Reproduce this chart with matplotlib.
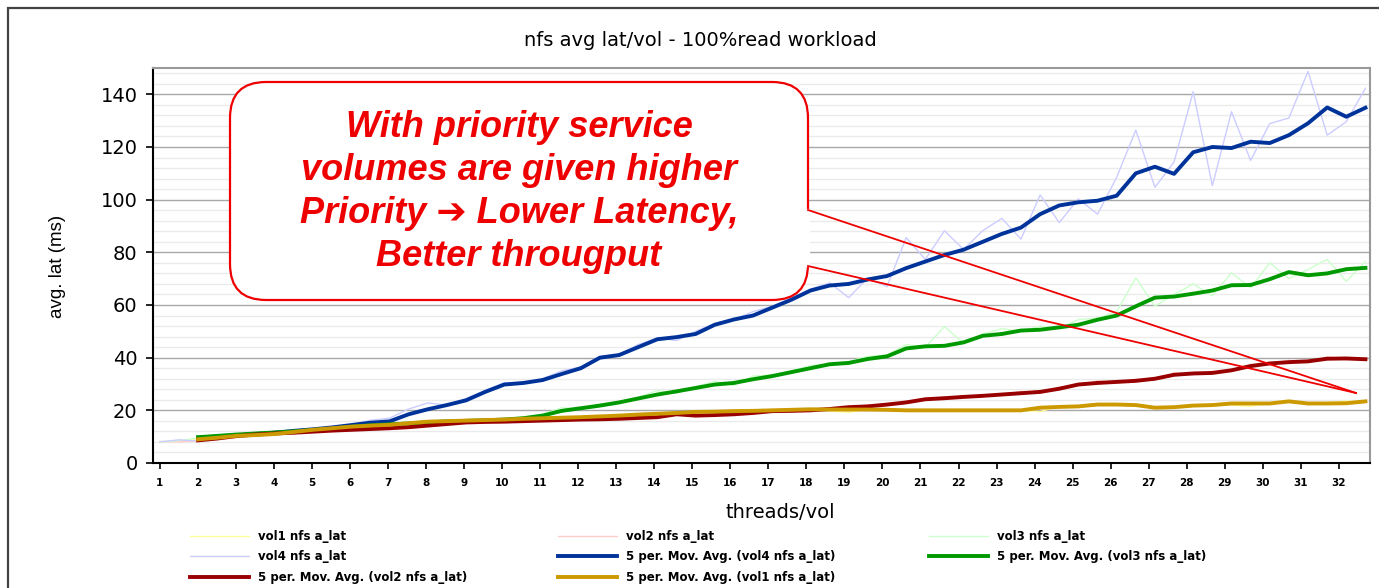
import numpy as np
import matplotlib
matplotlib.use("Agg")
import matplotlib.pyplot as plt
from matplotlib.patches import FancyBboxPatch, Rectangle
from matplotlib.lines import Line2D
from matplotlib.ticker import MultipleLocator

nan = float("nan")

# ---------------- data ----------------
threads = np.round(np.linspace(1, 32.7, 64), 3)      # sample positions (threads/vol)
tick_labels = [str(i) for i in range(1, 33)]

vol1_raw = [8.0, 8.6, 8.8, 9.8, 10.2, 10.8, 11.2, 12.0, 12.8, 13.4, 13.6, 14.4, 14.6, 15.4, 15.6, 16.0,
            16.2, 16.5, 16.4, 17.0, 17.0, 17.4, 17.6, 17.8, 18.2, 18.5, 18.9, 19.3, 19.2, 19.6, 20.0, 19.8,
            20.3, 20.4, 20.6, 19.8, 19.2, 20.5, 20.3, 20.0, 20.2, 19.8, 20.2, 20.0, 19.9, 20.1, 19.5, 21.6,
            21.8, 22.5, 22.6, 21.9, 20.8, 21.5, 22.2, 21.8, 22.0, 21.5, 22.9, 23.8, 22.4, 23.0, 23.5, 23.2]
vol2_raw = [8.2, 8.0, 8.5, 9.8, 10.0, 11.0, 11.0, 11.8, 11.7, 12.5, 12.4, 13.2, 13.0, 14.0, 14.0, 15.2,
            15.0, 16.0, 15.5, 16.2, 15.8, 16.8, 16.2, 17.0, 16.5, 17.6, 17.0, 19.0, 17.6, 18.6, 18.2, 19.5,
            19.4, 20.2, 19.8, 21.0, 21.0, 22.0, 21.8, 23.6, 24.0, 25.2, 24.8, 26.0, 25.6, 27.2, 26.5, 28.8,
            29.5, 31.2, 30.4, 31.8, 31.6, 34.2, 33.6, 34.8, 35.0, 37.5, 37.4, 39.0, 38.2, 40.3, 39.2, 39.8]
vol3_raw = [8.0, 8.5, 9.5, 10.5, 10.8, 11.3, 11.5, 12.2, 12.7, 13.2, 14.0, 14.5, 14.5, 15.3, 15.5, 16.0,
            16.0, 16.5, 16.8, 17.5, 18.5, 21.0, 20.5, 22.5, 23.0, 25.0, 27.5, 26.5, 29.0, 31.0, 29.5, 33.0,
            33.5, 35.0, 37.0, 37.5, 38.5, 40.5, 41.0, 45.0, 44.0, 51.8, 45.5, 49.0, 51.0, 50.0, 52.0, 51.0,
            54.5, 55.0, 57.5, 70.3, 59.5, 64.0, 68.0, 63.5, 72.2, 66.5, 76.0, 70.0, 73.5, 77.3, 69.0, 76.5]
vol4_raw = [8.0, 8.8, 8.3, 10.0, 10.6, 10.8, 11.5, 12.0, 12.8, 13.8, 14.6, 16.2, 17.0, 20.5, 22.8, 22.0,
            24.5, 27.5, 30.5, 30.0, 32.0, 35.0, 36.5, 40.5, 41.0, 45.0, 47.5, 46.5, 50.0, 53.0, 54.5, 57.5,
            59.5, 62.5, 66.0, 68.4, 62.8, 70.3, 67.0, 85.6, 77.3, 88.2, 81.1, 88.2, 92.9, 85.0, 101.8, 91.3,
            100.3, 94.5, 108.5, 126.4, 104.7, 114.3, 141.0, 105.3, 133.4, 114.9, 128.9, 131.0, 148.7, 124.5, 129.6, 142.3]

ma_vol4 = [nan, nan, 9.6, 10.0, 10.5, 11.0, 11.5, 12.2, 12.8, 13.5, 14.4, 15.3, 15.8, 18.5, 20.4, 22.0,
           23.8, 27.0, 29.8, 30.4, 31.5, 33.8, 36.0, 40.0, 41.0, 44.0, 47.0, 47.8, 49.0, 52.5, 54.5, 56.0,
           59.0, 62.0, 65.5, 67.4, 68.0, 69.7, 71.0, 74.0, 76.5, 79.0, 81.0, 84.0, 87.0, 89.4, 94.5, 97.8,
           99.0, 99.6, 101.5, 110.0, 112.5, 109.8, 118.0, 120.0, 119.6, 122.0, 121.5, 124.5, 129.0, 135.0, 131.5, 134.9]
ma_vol3 = [nan, nan, 9.8, 10.3, 10.8, 11.2, 11.6, 12.0, 12.5, 13.0, 13.8, 14.3, 14.7, 15.0, 15.4, 15.8,
           16.0, 16.2, 16.5, 17.0, 18.0, 19.8, 20.8, 21.8, 23.0, 24.5, 26.0, 27.2, 28.5, 29.8, 30.4, 31.8,
           33.0, 34.5, 36.0, 37.5, 38.0, 39.5, 40.5, 43.5, 44.3, 44.5, 45.8, 48.3, 49.0, 50.3, 50.6, 51.5,
           52.5, 54.4, 56.0, 59.5, 62.8, 63.2, 64.3, 65.5, 67.5, 67.6, 69.8, 72.5, 71.3, 72.0, 73.6, 74.1]
ma_vol2 = [nan, nan, 8.6, 9.3, 10.2, 10.8, 11.2, 11.5, 11.9, 12.3, 12.6, 12.9, 13.2, 13.6, 14.2, 14.8,
           15.4, 15.6, 15.7, 15.9, 16.1, 16.3, 16.5, 16.6, 16.8, 17.1, 17.4, 18.5, 18.0, 18.2, 18.5, 19.0,
           19.7, 19.8, 20.0, 20.5, 21.2, 21.5, 22.2, 23.0, 24.2, 24.6, 25.1, 25.5, 26.0, 26.5, 27.0, 28.2,
           29.8, 30.4, 30.8, 31.2, 32.0, 33.5, 34.0, 34.2, 35.2, 36.8, 37.8, 38.3, 38.6, 39.6, 39.7, 39.4]
ma_vol1 = [nan, nan, 9.0, 9.6, 10.3, 10.6, 11.0, 11.8, 12.6, 13.2, 13.8, 14.2, 14.5, 15.1, 15.7, 15.9,
           16.1, 16.3, 16.5, 16.8, 17.0, 17.2, 17.4, 17.7, 18.0, 18.4, 18.7, 19.0, 19.4, 19.5, 19.7, 19.8,
           20.0, 20.2, 20.4, 20.3, 20.3, 20.3, 20.2, 20.0, 20.0, 20.0, 20.0, 20.0, 20.0, 20.0, 21.0, 21.3,
           21.5, 22.2, 22.2, 22.0, 21.0, 21.2, 21.8, 22.0, 22.6, 22.6, 22.6, 23.4, 22.6, 22.6, 22.7, 23.4]

# ---------------- figure ----------------
W, H = 1379, 588
fig = plt.figure(figsize=(W / 100, H / 100), dpi=100)
fig.patch.set_facecolor("white")

# outer chart-area frame (continues past right/bottom edge)
fig.add_artist(Rectangle((8 / W, -0.2), 1.5, 1.2 - 8 / H, transform=fig.transFigure,
                         fill=False, edgecolor="#444444", lw=1.6, zorder=0.5))

ax = fig.add_axes([153 / W, 125 / H, 1217 / W, 395 / H])
ax.set_facecolor("white")

l_v1, = ax.plot(threads, vol1_raw, color="#ffff99", lw=1.0, label="vol1 nfs a_lat")
l_v2, = ax.plot(threads, vol2_raw, color="#ffcccc", lw=1.0, label="vol2 nfs a_lat")
l_v3, = ax.plot(threads, vol3_raw, color="#ccffcc", lw=1.0, label="vol3 nfs a_lat")
l_v4, = ax.plot(threads, vol4_raw, color="#ccccff", lw=1.0, label="vol4 nfs a_lat")
m_v4, = ax.plot(threads, ma_vol4, color="#003399", lw=2.8, label="5 per. Mov. Avg. (vol4 nfs a_lat)")
m_v3, = ax.plot(threads, ma_vol3, color="#009900", lw=2.8, label="5 per. Mov. Avg. (vol3 nfs a_lat)")
m_v2, = ax.plot(threads, ma_vol2, color="#990000", lw=2.8, label="5 per. Mov. Avg. (vol2 nfs a_lat)")
m_v1, = ax.plot(threads, ma_vol1, color="#cc9900", lw=2.8, label="5 per. Mov. Avg. (vol1 nfs a_lat)")

ax.set_xlim(0.82, 32.82)
ax.set_ylim(0, 150)
ax.set_xticks(range(1, 33))
ax.set_xticklabels(tick_labels, fontsize=7.5, fontweight="bold", family="DejaVu Sans")
ax.set_yticks(range(0, 141, 20))
ax.set_yticklabels([str(v) for v in range(0, 141, 20)], fontsize=14, family="DejaVu Sans")
ax.yaxis.set_minor_locator(MultipleLocator(4))
ax.tick_params(axis="y", which="major", direction="out", length=5, width=1.2, pad=6)
ax.tick_params(axis="y", which="minor", length=0)
ax.tick_params(axis="x", direction="out", length=4, width=1.2, pad=7)
ax.grid(which="major", axis="y", color="#a8a8a8", lw=1.0)
ax.grid(which="minor", axis="y", color="#ebebeb", lw=1.0)
ax.set_axisbelow(True)
for s in ("left", "bottom"):
    ax.spines[s].set_color("black")
    ax.spines[s].set_linewidth(1.5)
for s in ("top", "right"):
    ax.spines[s].set_color("#999999")
    ax.spines[s].set_linewidth(1.5)

fig.text(58 / W, 1 - 266 / H, "avg. lat (ms)", fontsize=13.5, family="Liberation Sans",
         rotation=90, ha="center", va="center")
fig.text(780 / W, 1 - 513 / H, "threads/vol", fontsize=14, family="DejaVu Sans",
         ha="center", va="center")
fig.text(700 / W, 1 - 40 / H, "nfs avg lat/vol - 100%read workload", fontsize=14,
         family="DejaVu Sans", ha="center", va="center")

# ---------------- legend (three columns) ----------------
cols = [([l_v1, l_v4, m_v2], 190), ([l_v2, m_v4, m_v1], 558), ([l_v3, m_v3], 929)]
for handles, xpx in cols:
    fig.legend(handles=handles, labels=[h.get_label() for h in handles],
               loc="upper left", bbox_to_anchor=(xpx / W, 1 - 530 / H),
               frameon=False, borderpad=0, borderaxespad=0, handlelength=5.0,
               handletextpad=0.8, labelspacing=0.62,
               prop={"family": "DejaVu Sans", "weight": "bold", "size": 8.5})

# ---------------- callout ----------------
tr = fig.dpi_scale_trans
bx0, by0, bx1, by1 = 230, 82, 808, 300
box = FancyBboxPatch((bx0 / 100, (H - by1) / 100), (bx1 - bx0) / 100, (by1 - by0) / 100,
                     boxstyle="round,pad=0,rounding_size=0.36", transform=tr,
                     facecolor="white", edgecolor="#ee0000", lw=1.6, zorder=5)
fig.add_artist(box)
ty1, ty2 = 210, 266
tip = (1356, 393)
fig.add_artist(Line2D([bx1 / 100, bx1 / 100], [(H - ty1 - 1) / 100, (H - ty2 + 1) / 100],
                      transform=tr, color="white", lw=3, zorder=6))
for ty in (ty1, ty2):
    fig.add_artist(Line2D([bx1 / 100, tip[0] / 100], [(H - ty) / 100, (H - tip[1]) / 100],
                          transform=tr, color="#ee0000", lw=1.3, zorder=6))

fig.text(519 / 100, (H - 192) / 100,
         "With priority service\nvolumes are given higher\nPriority \u2794 Lower Latency,\nBetter througput",
         transform=tr, ha="center", va="center", color="#ee0000", fontsize=26,
         fontweight="bold", fontstyle="italic", family=["Liberation Sans", "DejaVu Sans"],
         linespacing=1.29, zorder=7)

fig.savefig("out.png", dpi=100, facecolor="white")
